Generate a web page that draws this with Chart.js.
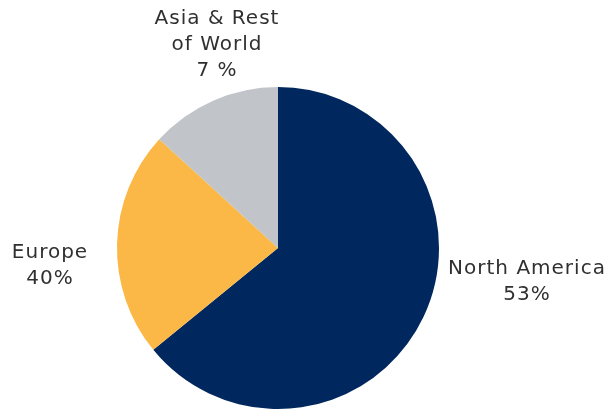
<!DOCTYPE html>
<html><head><meta charset="utf-8">
<script src="https://cdn.jsdelivr.net/npm/chart.js@4"></script>
<style>html,body{margin:0;padding:0;background:#fff}#wrap{width:607px;height:411px}</style>
</head><body><div id="wrap"><canvas id="c"></canvas></div>
<script>
const categories = ["North America", "Europe", "Asia & Rest of World"];
const sliceValues = [64.1, 22.7, 13.2];
const labelTexts = ["53%", "40%", "7 %"];
const labelLines = [["North America"], ["Europe"], ["Asia & Rest", "of World"]];
const colors = ["#00285E", "#FBB846", "#C1C4C8"];
// label anchor positions (x,y of first line centre) relative to pie centre
const labelOffsets = [[249, 21], [-228, 5], [-61, -229]];

const labelPlugin = {
  id: 'sliceLabels',
  afterDatasetsDraw(chart) {
    const ctx = chart.ctx;
    const arc0 = chart.getDatasetMeta(0).data[0];
    const cx = arc0.x, cy = arc0.y;
    ctx.save();
    ctx.font = '20px "DejaVu Sans"';
    ctx.letterSpacing = '1px';
    ctx.fillStyle = '#303030';
    ctx.textAlign = 'center';
    ctx.textBaseline = 'middle';
    const lh = 26;
    categories.forEach((c, i) => {
      const lines = labelLines[i].concat([labelTexts[i]]);
      const x = cx + labelOffsets[i][0];
      const y = cy + labelOffsets[i][1];
      lines.forEach((t, k) => ctx.fillText(t, x, y + k * lh));
    });
    ctx.restore();
  }
};

new Chart(document.getElementById('c'), {
  type: 'pie',
  data: { labels: categories, datasets: [{ data: sliceValues, backgroundColor: colors, borderWidth: 0 }] },
  options: {
    responsive: true, maintainAspectRatio: false, animation: false,
    layout: { padding: { left: 0, right: 51, top: 87, bottom: 2 } },
    plugins: { legend: { display: false }, tooltip: { enabled: false } }
  },
  plugins: [labelPlugin]
});
</script></body></html>
